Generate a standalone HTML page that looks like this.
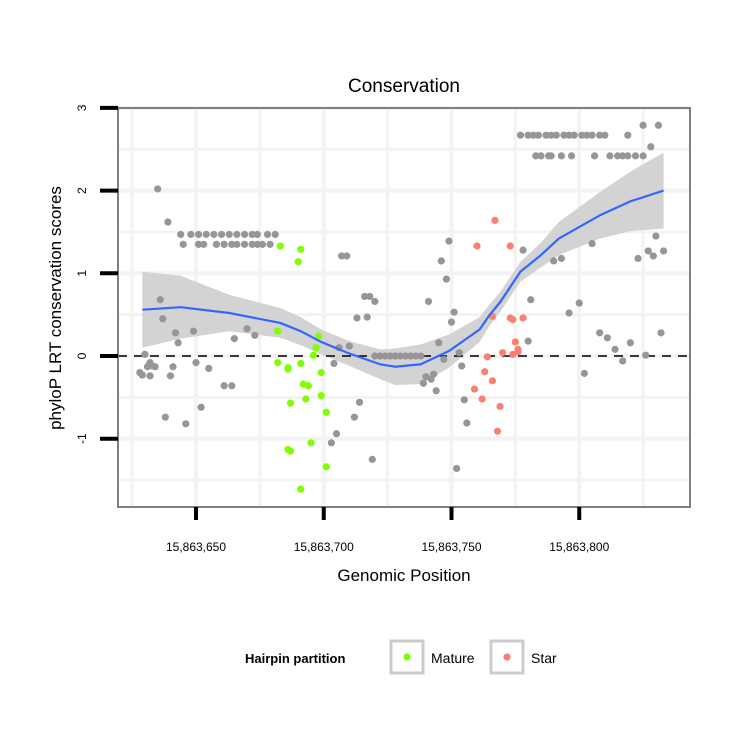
<!DOCTYPE html>
<html><head><meta charset="utf-8">
<style>
html,body{margin:0;padding:0;background:#fff;}
svg{display:block;font-family:"Liberation Sans",sans-serif;}
</style></head>
<body>
<svg id="chart" width="750" height="750" viewBox="0 0 750 750" xmlns="http://www.w3.org/2000/svg">
<rect x="0" y="0" width="750" height="750" fill="#fff"/>
<g id="grid"></g>
<g id="band"></g>
<line x1="118" x2="690" y1="356" y2="356" stroke="#000" stroke-width="1.6" stroke-dasharray="9,7"/>
<g id="points"></g>
<g id="smooth"></g>
<rect x="118" y="108" width="572" height="399" fill="none" stroke="#7f7f7f" stroke-width="2"/>
<g id="axes"></g>
<text x="404" y="92" font-size="19" text-anchor="middle">Conservation</text>
<text x="404" y="581" font-size="17" text-anchor="middle">Genomic Position</text>
<text transform="translate(61,308) rotate(-90)" font-size="17" text-anchor="middle">phyloP LRT conservation scores</text>
<g>
<text x="245" y="663" font-size="13" font-weight="bold">Hairpin partition</text>
<rect x="391" y="641" width="32" height="32" fill="#fff" stroke="#cccccc" stroke-width="3"/>
<circle cx="407" cy="657" r="3.6" fill="#7fff00"/>
<text x="431" y="663" font-size="14">Mature</text>
<rect x="491" y="641" width="32" height="32" fill="#fff" stroke="#cccccc" stroke-width="3"/>
<circle cx="507" cy="657" r="3.6" fill="#fa8072"/>
<text x="531" y="663" font-size="14">Star</text>
</g>
</svg>
<script>
const xTicks = [15863650, 15863700, 15863750, 15863800];
const xTickLabels = ["15,863,650","15,863,700","15,863,750","15,863,800"];
const yTicks = [-1, 0, 1, 2, 3];
const yTickLabels = ["-1","0","1","2","3"];
const B = 15863600;
// gray (other) points: position offset from 15,863,600 and score
const grayPos = [35,39,
 44,48,51,54,57,60,63,66,69,72,74,78,81,
 45,51,53,58,61,64,66,69,72,74,76,79,
 36,37,42,43,49,70,73,65,30,32,31,34,29,32,41,40,50,55,61,64,38,46,52,28,33];
const grayScore = [2.02,1.62,
 1.47,1.47,1.47,1.47,1.47,1.47,1.47,1.47,1.47,1.47,1.47,1.47,1.47,
 1.35,1.35,1.35,1.35,1.35,1.35,1.35,1.35,1.35,1.35,1.35,1.35,
 0.68,0.45,0.28,0.16,0.30,0.33,0.25,0.21,0.02,-0.08,-0.13,-0.13,-0.23,-0.24,-0.13,-0.24,-0.08,-0.15,-0.36,-0.36,-0.74,-0.82,-0.62,-0.2,-0.12];
const grayMidPos = [107,109,116,118,120,113,117,106,110,104,120,122,124,126,128,130,132,134,136,138,114,112,105,103,119,
 149,146,148,141,151,150,145,153,147,154,143,140,139,142,144,155,156,152,178,180,181];
const grayMidScore = [1.21,1.21,0.72,0.72,0.66,0.46,0.47,0.1,0.12,-0.09,0,0,0,0,0,0,0,0,0,0,-0.56,-0.74,-0.94,-1.05,-1.25,
 1.39,1.15,0.93,0.66,0.53,0.41,0.16,0.04,-0.04,-0.12,-0.22,-0.25,-0.33,-0.28,-0.42,-0.53,-0.81,-1.36,1.28,0.18,0.68];
const grayRightPos = [177,180,182,184,187,189,191,194,196,198,201,203,205,208,210,219,225,231,228,
 183,185,188,189,193,197,206,212,215,217,219,222,225,
 230,227,229,223,233,205,190,193,200,196,208,211,232,214,220,217,226,202];
const grayRightScore = [2.67,2.67,2.67,2.67,2.67,2.67,2.67,2.67,2.67,2.67,2.67,2.67,2.67,2.67,2.67,2.67,2.79,2.79,2.53,
 2.42,2.42,2.42,2.42,2.42,2.42,2.42,2.42,2.42,2.42,2.42,2.42,2.42,
 1.45,1.27,1.21,1.18,1.27,1.36,1.15,1.18,0.64,0.52,0.28,0.22,0.28,0.08,0.16,-0.06,0.01,-0.21];
const maturePos = [83,91,90,82,98,97,82,86,86,99,94,93,87,86,87,95,92,99,101,91,96,101,91];
const matureScore = [1.33,1.29,1.14,0.30,0.24,0.10,-0.08,-0.16,-0.14,-0.20,-0.36,-0.52,-0.57,-1.13,-1.15,-1.05,-0.34,-0.48,-1.34,-1.61,0.01,-0.68,-0.09];
const starPos = [167,160,173,166,173,174,178,175,176,176,174,170,164,163,166,159,162,169,168];
const starScore = [1.64,1.33,1.33,0.48,0.46,0.44,0.46,0.17,0.08,0.05,0.02,0.04,-0.01,-0.19,-0.30,-0.40,-0.52,-0.61,-0.91];
// loess fit
const fitPos = [29,44,63,83,91,99,110,122,128,138,149,161,165,169,177,185,192,208,220,233];
const fitVal = [0.56,0.59,0.52,0.40,0.30,0.17,0.03,-0.10,-0.13,-0.10,0.06,0.32,0.50,0.65,1.02,1.22,1.42,1.70,1.87,2.00];
const fitSe = [0.46,0.38,0.22,0.18,0.17,0.15,0.15,0.18,0.22,0.24,0.2,0.15,0.13,0.12,0.12,0.15,0.2,0.28,0.36,0.46];

const NS = "http://www.w3.org/2000/svg";
const xs = p => 196 + (p - 15863650) * 2.555;
const ys = v => 356 - v * 82.7;
function mk(tag, attrs, parent) {
  const e = document.createElementNS(NS, tag);
  for (const k in attrs) e.setAttribute(k, attrs[k]);
  parent.appendChild(e);
  return e;
}
const grid = document.getElementById('grid');
const bg = mk('rect', {x:118,y:108,width:572,height:399,fill:'#fff'}, grid);


const xg = [15863625,15863650,15863675,15863700,15863725,15863750,15863775,15863800,15863825];
xg.forEach(v => {
  const l = mk('line', {x1:xs(v),x2:xs(v),y1:108,y2:507,stroke:'#f3f3f3','stroke-width':v%50===0?4:3}, grid);
  
  
});
[-1.5,-1,-0.5,0,0.5,1,1.5,2,2.5,3].forEach(v => {
  const l = mk('line', {x1:118,x2:690,y1:ys(v),y2:ys(v),stroke:'#f3f3f3','stroke-width':Number.isInteger(v)?4:3}, grid);
  
  
});
let up = fitPos.map((p,i)=>xs(B+p)+','+ys(fitVal[i]+fitSe[i]));
let lo = fitPos.map((p,i)=>xs(B+p)+','+ys(fitVal[i]-fitSe[i])).reverse();
const band = mk('polygon', {points: up.concat(lo).join(' '), fill:'#d3d3d3'}, document.getElementById('band'));


const pg = document.getElementById('points');
function drawPts(pos, sc, color, name) {
  pos.forEach((p,i) => {
    const c = mk('circle', {cx:xs(B+p), cy:ys(sc[i]), r:3.6, fill:color}, pg);
    
    
  });
}
drawPts(grayPos, grayScore, '#969696', 'point-other');
drawPts(grayMidPos, grayMidScore, '#969696', 'point-other');
drawPts(grayRightPos, grayRightScore, '#969696', 'point-other');
drawPts(maturePos, matureScore, '#7fff00', 'point-mature');
drawPts(starPos, starScore, '#fa8072', 'point-star');
const d = fitPos.map((p,i)=>(i?'L':'M')+xs(B+p)+','+ys(fitVal[i])).join(' ');
const sl = mk('path', {d:d, fill:'none', stroke:'#3366ff', 'stroke-width':2.2, 'stroke-linejoin':'round'}, document.getElementById('smooth'));


const ax = document.getElementById('axes');
xTicks.forEach((v,i) => {
  const t = mk('line', {x1:xs(v),x2:xs(v),y1:507,y2:520,stroke:'#000','stroke-width':4}, ax);
  
  
  const tx = mk('text', {x:xs(v), y:551, 'font-size':12, 'text-anchor':'middle'}, ax);
  tx.textContent = xTickLabels[i];
  
  
});
yTicks.forEach((v,i) => {
  const t = mk('line', {x1:100,x2:118,y1:ys(v),y2:ys(v),stroke:'#000','stroke-width':4}, ax);
  
  
  const tx = mk('text', {transform:'translate(86,'+ys(v)+') rotate(-90)', 'font-size':12, 'text-anchor':'middle'}, ax);
  tx.textContent = yTickLabels[i];
  
  
});
</script>
</body></html>
